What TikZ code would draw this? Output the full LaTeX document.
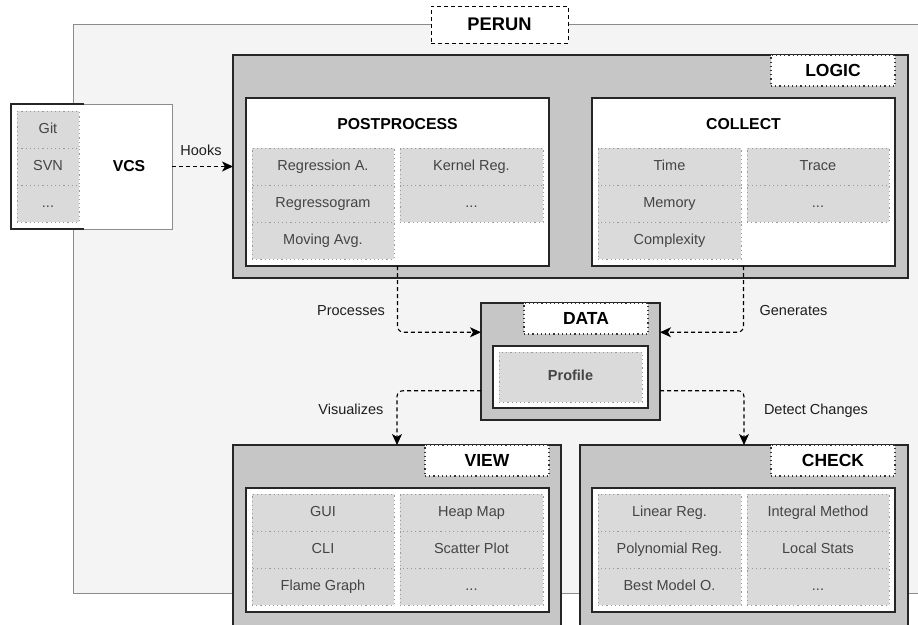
\documentclass[tikz,border=0pt]{standalone}
\usepackage{fontspec}
\setmainfont{Liberation Sans}
\usetikzlibrary{arrows.meta,calc}
\definecolor{outerfill}{HTML}{F4F4F4}
\definecolor{outerline}{HTML}{8C8C8C}
\definecolor{groupfill}{HTML}{C6C6C6}
\definecolor{cellfill}{HTML}{DADADA}
\definecolor{celltext}{HTML}{444444}
\definecolor{cellline}{HTML}{9A9A9A}
\definecolor{labeltext}{HTML}{1E1E1E}
\tikzset{
  base/.style={rectangle, inner sep=0pt, outer sep=0pt, anchor=north west},
  dotline/.style={dash pattern=on 1.2pt off 3pt},
  outerframe/.style={base, fill=outerfill, draw=outerline, line width=1pt},
  groupbox/.style={base, fill=groupfill, draw=black!85, line width=1.3pt},
  panelbox/.style={base, fill=white, draw=black!85, line width=1.3pt},
  cellbx/.style={base, fill=cellfill, draw=cellline, dotline, line width=1pt, text=celltext,
    font=\fontsize{14.5}{17}\selectfont, text height=10.5pt, text depth=3pt},
  tagbox/.style={base, fill=white, draw=black!80, dotline, line width=1.1pt,
    font=\bfseries\fontsize{17.5}{20}\selectfont, text height=12.6pt, text depth=0pt},
  titletext/.style={inner sep=0pt, font=\bfseries\fontsize{15.8}{18}\selectfont},
  edgelabel/.style={inner sep=0pt, text=labeltext, font=\fontsize{14.5}{17}\selectfont},
  conn/.style={draw=black, line width=1.1pt, dash pattern=on 4pt off 3pt, rounded corners=6pt,
    -{Stealth[length=11pt,width=10pt,inset=3pt]}},
}
% name, x1, y1, x2, y2, text
\newcommand\mkcell[6]{\node[cellbx, minimum width={#4-#2}, minimum height={#5-#3}] (#1) at (#2,#3) {#6};}
% style, name, x1, y1, x2, y2, text
\newcommand\mkbox[7]{\node[#1, minimum width={#5-#3}, minimum height={#6-#4}] (#2) at (#3,#4) {#7};}
\begin{document}
\begin{tikzpicture}[x=1pt,y=-1pt]
\useasboundingbox (0,0) rectangle (918,624);
% outer frame
\mkbox{outerframe}{perun}{73}{24}{918}{593}{}
\node[base, fill=white, draw=black, line width=1pt, dash pattern=on 4pt off 3pt,
  minimum width=137, minimum height=37, font=\bfseries\fontsize{18.3}{21}\selectfont]
  (peruntag) at (431,6) {PERUN};
% VCS
\mkbox{base, fill=white, draw=outerline, line width=1pt}{vcs}{11}{104}{172}{229}{}
\draw[black!85, line width=1.5pt] (84,104) -- (vcs.north west) -- (vcs.south west) -- (84,229);
\mkcell{git}{17}{111}{79}{148}{Git}
\mkcell{svn}{17}{148}{79}{185}{SVN}
\mkcell{vcsmore}{17}{185}{79}{222}{...}
\node[titletext] (vcstitle) at (129,166.5) {VCS};
% LOGIC
\mkbox{groupbox}{logic}{233}{55}{908}{278}{}
\mkbox{tagbox}{logictag}{771}{55}{895}{86}{LOGIC}
\mkbox{panelbox}{pp}{246}{98}{549}{266}{}
\node[titletext] (pptitle) at (397.5,124) {POSTPROCESS};
\mkcell{ppa}{252}{148}{394}{185}{Regression A.}
\mkcell{ppb}{252}{185}{394}{222}{Regressogram}
\mkcell{ppc}{252}{222}{394}{259}{Moving Avg.}
\mkcell{ppd}{400}{148}{543}{185}{Kernel Reg.}
\mkcell{ppe}{400}{185}{543}{222}{...}
\mkbox{panelbox}{col}{592}{98}{895}{266}{}
\node[titletext] (coltitle) at (743.5,124) {COLLECT};
\mkcell{cola}{598}{148}{741}{185}{Time}
\mkcell{colb}{598}{185}{741}{222}{Memory}
\mkcell{colc}{598}{222}{741}{259}{Complexity}
\mkcell{cold}{747}{148}{889}{185}{Trace}
\mkcell{cole}{747}{185}{889}{222}{...}
% DATA
\mkbox{groupbox}{data}{481}{303}{660}{420}{}
\mkbox{tagbox}{datatag}{524}{303}{648}{334}{DATA}
\mkbox{panelbox}{datapanel}{493}{346}{648}{408}{}
\mkcell{profile}{499}{352}{642}{402}{\bfseries Profile}
% VIEW
\mkbox{groupbox}{view}{233}{445}{561}{630}{}
\mkbox{tagbox}{viewtag}{425}{445}{549}{476}{VIEW}
\mkbox{panelbox}{viewpanel}{246}{488}{549}{612}{}
\mkcell{va}{252}{494}{394}{531}{GUI}
\mkcell{vb}{252}{531}{394}{568}{CLI}
\mkcell{vc}{252}{568}{394}{605}{Flame Graph}
\mkcell{vd}{400}{494}{543}{531}{Heap Map}
\mkcell{ve}{400}{531}{543}{568}{Scatter Plot}
\mkcell{vf}{400}{568}{543}{605}{...}
% CHECK
\mkbox{groupbox}{check}{580}{445}{908}{630}{}
\mkbox{tagbox}{checktag}{771}{445}{895}{476}{CHECK}
\mkbox{panelbox}{checkpanel}{592}{488}{895}{612}{}
\mkcell{ca}{598}{494}{741}{531}{Linear Reg.}
\mkcell{cb}{598}{531}{741}{568}{Polynomial Reg.}
\mkcell{cc}{598}{568}{741}{605}{Best Model O.}
\mkcell{cd}{747}{494}{889}{531}{Integral Method}
\mkcell{ce}{747}{531}{889}{568}{Local Stats}
\mkcell{cf}{747}{568}{889}{605}{...}
% connectors
\coordinate (dwu) at ($(data.north west)!0.25!(data.south west)$);
\coordinate (deu) at ($(data.north east)!0.25!(data.south east)$);
\coordinate (dwl) at ($(data.north west)!0.75!(data.south west)$);
\coordinate (del) at ($(data.north east)!0.75!(data.south east)$);
\draw[conn] (vcs.east) -- (logic.west);
\draw[conn] (pp.south) |- (dwu);
\draw[conn] (col.south) |- (deu);
\draw[conn] (dwl) -| (view.north);
\draw[conn] (del) -| (check.north);
\node[edgelabel] (hooks) at (201,150) {Hooks};
\node[edgelabel] (proc) at (351,311) {Processes};
\node[edgelabel] (gen) at (793.5,311) {Generates};
\node[edgelabel] (vis) at (351,409) {Visualizes};
\node[edgelabel] (det) at (816,411) {Detect Changes};
\end{tikzpicture}
\end{document}
